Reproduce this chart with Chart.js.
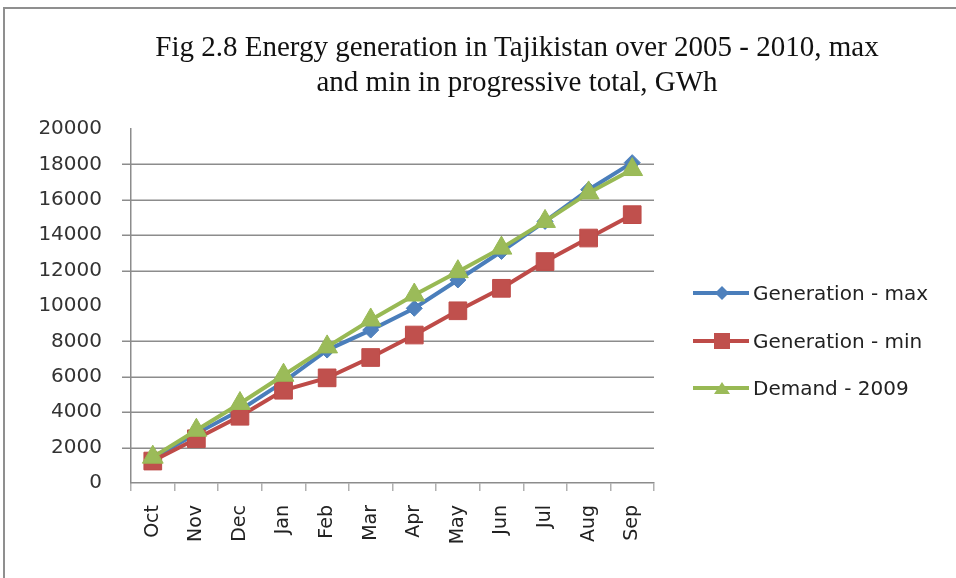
<!DOCTYPE html>
<html>
<head>
<meta charset="utf-8">
<script src="https://cdn.jsdelivr.net/npm/chart.js@4.4.1/dist/chart.umd.min.js"></script>
<style>
  html, body { margin: 0; padding: 0; background: #fff; }
  #wrap { position: relative; width: 956px; height: 578px; overflow: hidden; }
  #frame { position: absolute; left: 3px; top: 7px; width: 1000px; height: 700px; border: 2px solid #8f8f8f; box-sizing: border-box; }
  #title { position: absolute; left: 67px; top: 29px; width: 900px; text-align: center;
           font-family: "Liberation Serif", "Times New Roman", serif; font-size: 29px; line-height: 35px; color: #111; }
  canvas { position: absolute; left: 0; top: 0; }
  .leg { position: absolute; left: 692px; height: 24px; display: flex; align-items: center;
         font-family: "DejaVu Sans", sans-serif; font-size: 20px; color: #222; white-space: nowrap; }
  .leg svg { margin-right: 3px; }
</style>
</head>
<body>
<div id="wrap">
  <div id="frame"></div>
  <canvas id="c" width="956" height="578"></canvas>
  <div id="title">Fig 2.8 Energy generation in Tajikistan over 2005 - 2010, max<br>and min in progressive total, GWh</div>
  <div id="legend"></div>
</div>
<script>
const months = ['Oct', 'Nov', 'Dec', 'Jan', 'Feb', 'Mar', 'Apr', 'May', 'Jun', 'Jul', 'Aug', 'Sep'];
const genMax = [1400, 2790, 4110, 5710, 7510, 8640, 9870, 11470, 13080, 14780, 16570, 18100];
const genMin = [1240, 2500, 3770, 5240, 5940, 7090, 8360, 9730, 11000, 12510, 13840, 15160];
const demand = [1460, 2980, 4490, 6090, 7690, 9210, 10620, 11940, 13270, 14780, 16390, 17710];
const seriesNames = ['Generation - max', 'Generation - min', 'Demand - 2009'];
const yTicks = [0, 2000, 4000, 6000, 8000, 10000, 12000, 14000, 16000, 18000, 20000];
const hiddenGrid = [10000, 20000];

const BLUE = '#4A7EBB', RED = '#BE4B48', GREEN = '#98B954';
const GRID = '#8c8c8c';

// Draws horizontal gridlines (and outer tick marks) at the y-scale's tick values,
// leaving out the ones that are missing in the reference.
const yGridPlugin = {
  id: 'yGrid',
  beforeDatasetsDraw(chart) {
    const { ctx, chartArea, scales } = chart;
    ctx.save();
    ctx.strokeStyle = GRID;
    ctx.lineWidth = 1.5;
    yTicks.forEach(v => {
      if (v === 0 || hiddenGrid.includes(v)) return;
      const y = Math.round(scales.y.getPixelForValue(v)) + 0.25;
      ctx.beginPath();
      ctx.moveTo(chartArea.left - 9, y);
      ctx.lineTo(chartArea.right, y);
      ctx.stroke();
    });
    ctx.restore();
  }
};

new Chart(document.getElementById('c'), {
  type: 'line',
  data: {
    labels: months,
    datasets: [
      { label: seriesNames[0], data: genMax, borderColor: BLUE, backgroundColor: '#4F81BD',
        borderWidth: 4, pointStyle: 'rectRot', pointRadius: 8, pointHoverRadius: 8, pointBorderWidth: 1, order: 3 },
      { label: seriesNames[1], data: genMin, borderColor: RED, backgroundColor: '#C0504D',
        borderWidth: 4, pointStyle: 'rect', pointRadius: 12.5, pointHoverRadius: 12.5, pointBorderWidth: 1, order: 2 },
      { label: seriesNames[2], data: demand, borderColor: GREEN, backgroundColor: '#9BBB59',
        borderWidth: 4, pointStyle: 'triangle', pointRadius: 12, pointHoverRadius: 12, pointBorderWidth: 1, order: 1 }
    ]
  },
  plugins: [yGridPlugin],
  options: {
    responsive: false,
    animation: false,
    layout: { padding: { top: 129, right: 302, bottom: 0, left: 0 } },
    plugins: { legend: { display: false }, title: { display: false }, tooltip: { enabled: false } },
    scales: {
      x: {
        type: 'category',
        offset: true,
        afterFit: (s) => { s.height = 95; },
        grid: { offset: true, drawOnChartArea: false, drawTicks: true, tickLength: 8, color: '#b0b0b0', lineWidth: 1.5 },
        border: { color: GRID, width: 1.5 },
        ticks: { minRotation: 90, maxRotation: 90, autoSkip: false, padding: 14,
                 font: { family: 'DejaVu Sans', size: 19 }, color: '#222' }
      },
      y: {
        min: 0, max: 20000,
        afterFit: (s) => { s.width = 131; },
        ticks: { stepSize: 2000, padding: 20, font: { family: 'DejaVu Sans', size: 20 }, color: '#333',
                 callback: (v) => String(v) },
        grid: { drawOnChartArea: false, drawTicks: true, tickLength: 9, color: 'rgba(255,255,255,0)', lineWidth: 1.5 },
        border: { color: GRID, width: 1.5 }
      }
    }
  }
});

// HTML legend
const legendDefs = [
  { name: seriesNames[0], color: BLUE, fill: '#4F81BD', shape: 'diamond', y: 293 },
  { name: seriesNames[1], color: RED, fill: '#C0504D', shape: 'square', y: 341 },
  { name: seriesNames[2], color: GREEN, fill: '#9BBB59', shape: 'triangle', y: 388 }
];
const legEl = document.getElementById('legend');
legendDefs.forEach(d => {
  let marker = '';
  if (d.shape === 'diamond') marker = `<polygon points="30,5 37,12 30,19 23,12" fill="${d.fill}"/>`;
  if (d.shape === 'square') marker = `<rect x="22" y="4" width="16" height="16" fill="${d.fill}"/>`;
  if (d.shape === 'triangle') marker = `<polygon points="30,6 38,18 22,18" fill="${d.fill}"/>`;
  const div = document.createElement('div');
  div.className = 'leg';
  div.style.top = (d.y - 12) + 'px';
  div.innerHTML = `<svg width="58" height="24"><line x1="1" y1="12" x2="57" y2="12" stroke="${d.color}" stroke-width="4"/>${marker}</svg><span>${d.name}</span>`;
  legEl.appendChild(div);
});
</script>
</body>
</html>
